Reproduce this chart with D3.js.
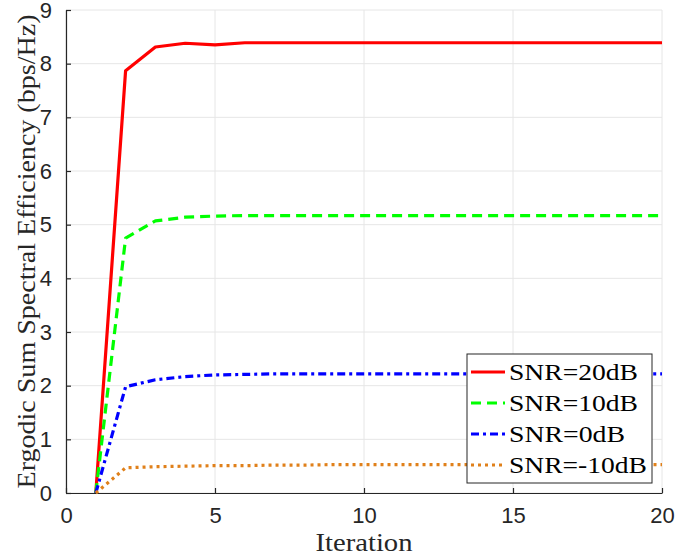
<!DOCTYPE html>
<html>
<head>
<meta charset="utf-8">
<script src="https://cdn.jsdelivr.net/npm/d3@7"></script>
<style>
  body { margin: 0; background: #fff; }
  svg { display: block; }
</style>
</head>
<body>
<svg id="chart" width="675" height="559"></svg>
<script>
// Iteration index
const iterations = [1, 2, 3, 4, 5, 6, 7, 8, 9, 10, 11, 12, 13, 14, 15, 16, 17, 18, 19, 20];

// Ergodic sum spectral efficiency (bps/Hz) per SNR
const snr20 = [0, 7.87, 8.31, 8.38, 8.35, 8.39, 8.39, 8.39, 8.39, 8.39, 8.39, 8.39, 8.39, 8.39, 8.39, 8.39, 8.39, 8.39, 8.39, 8.39];
const snr10 = [0, 4.75, 5.07, 5.14, 5.16, 5.17, 5.17, 5.17, 5.17, 5.17, 5.17, 5.17, 5.17, 5.17, 5.17, 5.17, 5.17, 5.17, 5.17, 5.17];
const snr0  = [0, 1.98, 2.11, 2.17, 2.20, 2.21, 2.22, 2.22, 2.22, 2.22, 2.22, 2.22, 2.22, 2.22, 2.22, 2.22, 2.22, 2.22, 2.22, 2.22];
const snrM10 = [0, 0.47, 0.49, 0.50, 0.51, 0.51, 0.52, 0.52, 0.53, 0.53, 0.53, 0.53, 0.53, 0.53, 0.53, 0.53, 0.53, 0.53, 0.53, 0.53];

const seriesNames = ["SNR=20dB", "SNR=10dB", "SNR=0dB", "SNR=-10dB"];
const xTicks = [0, 5, 10, 15, 20];
const yTicks = [0, 1, 2, 3, 4, 5, 6, 7, 8, 9];

const series = [
  { name: seriesNames[0], values: snr20, color: "#ff0000", dash: null, tw: 129 },
  { name: seriesNames[1], values: snr10, color: "#00ff00", dash: "10,6", tw: 129 },
  { name: seriesNames[2], values: snr0,  color: "#0000ff", dash: "8,4,3,4", tw: 116 },
  { name: seriesNames[3], values: snrM10, color: "#e0801a", dash: "3,4", tw: 138 }
];

const svg = d3.select("#chart");
const margin = { left: 66, right: 13, top: 10, bottom: 66 };
const W = 675, H = 559;

const x = d3.scaleLinear().domain([0, 20]).range([margin.left, W - margin.right]);
const y = d3.scaleLinear().domain([0, 9]).range([H - margin.bottom, margin.top]);

const tickFont = "'Liberation Sans', Arial, sans-serif";
const labelFont = "'Liberation Serif', 'DejaVu Serif', serif";

// grid
const grid = svg.append("g");
grid.selectAll("line.gx").data(xTicks).join("line")
  .attr("x1", d => x(d)).attr("x2", d => x(d))
  .attr("y1", y(0)).attr("y2", y(9))
  .attr("stroke", "#e6e6e6").attr("stroke-width", 1);
grid.selectAll("line.gy").data(yTicks).join("line")
  .attr("x1", x(0)).attr("x2", x(20))
  .attr("y1", d => y(d)).attr("y2", d => y(d))
  .attr("stroke", "#e6e6e6").attr("stroke-width", 1);

// axes
const xAxis = d3.axisBottom(x).tickValues(xTicks).tickSizeInner(-5).tickSizeOuter(0).tickPadding(14);
const yAxis = d3.axisLeft(y).tickValues(yTicks).tickSizeInner(-5).tickSizeOuter(0).tickPadding(14);

const gx = svg.append("g").attr("transform", `translate(0,${y(0)})`).call(xAxis);
const gy = svg.append("g").attr("transform", `translate(${x(0)},0)`).call(yAxis);
[gx, gy].forEach(g => {
  g.selectAll("path.domain").attr("stroke", "#262626").attr("stroke-width", 1.2);
  g.selectAll(".tick line").attr("stroke", "#262626").attr("stroke-width", 1.2);
  g.selectAll(".tick text").attr("fill", "#262626")
    .style("font-family", tickFont).style("font-size", "22px");
});

// lines
const line = d3.line().x((d, i) => x(iterations[i])).y(d => y(d));
svg.append("g").selectAll("path").data(series).join("path")
  .attr("d", d => line(d.values))
  .attr("fill", "none")
  .attr("stroke", d => d.color)
  .attr("stroke-width", 3.2)
  .attr("stroke-dasharray", d => d.dash)
  .attr("stroke-linejoin", "round");

// axis labels
svg.append("text")
  .attr("x", (x(0) + x(20)) / 2).attr("y", 551)
  .attr("text-anchor", "middle")
  .attr("textLength", 97).attr("lengthAdjust", "spacingAndGlyphs")
  .style("font-family", labelFont).style("font-size", "25px").attr("fill", "#262626")
  .text("Iteration");
svg.append("text")
  .attr("transform", `translate(35,${(y(0) + y(9)) / 2}) rotate(-90)`)
  .attr("text-anchor", "middle")
  .attr("textLength", 474).attr("lengthAdjust", "spacingAndGlyphs")
  .style("font-family", labelFont).style("font-size", "25px").attr("fill", "#262626")
  .text("Ergodic Sum Spectral Efficiency (bps/Hz)");

// legend
const lg = svg.append("g");
const lx = 467, ly = 354, lw = 185, lh = 129;
lg.append("rect").attr("x", lx).attr("y", ly).attr("width", lw).attr("height", lh)
  .attr("fill", "#fff").attr("stroke", "#262626").attr("stroke-width", 1);
series.forEach((s, i) => {
  const cy = ly + 18 + i * 31;
  lg.append("line")
    .attr("x1", lx + 4).attr("x2", lx + 38).attr("y1", cy).attr("y2", cy)
    .attr("stroke", s.color).attr("stroke-width", 3.2)
    .attr("stroke-dasharray", s.dash);
  lg.append("text")
    .attr("x", lx + 42).attr("y", cy + 8)
    .attr("textLength", s.tw).attr("lengthAdjust", "spacingAndGlyphs")
    .style("font-family", labelFont).style("font-size", "24px").attr("fill", "#000")
    .text(s.name);
});
</script>
</body>
</html>
